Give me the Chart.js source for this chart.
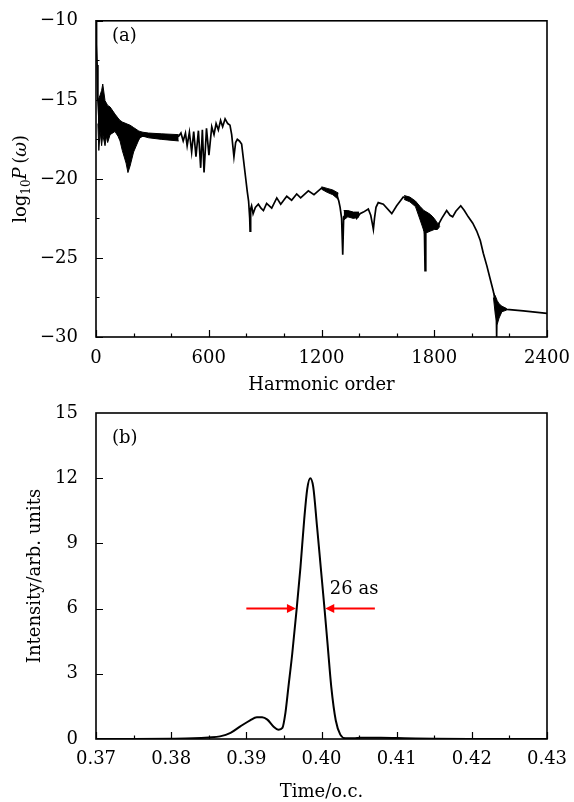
<!DOCTYPE html>
<html>
<head>
<meta charset="utf-8">
<script src="https://cdn.jsdelivr.net/npm/chart.js@4.4.1/dist/chart.umd.min.js"></script>
<style>
  body { margin: 0; background: #fff; }
  canvas { position: absolute; left: 0; }
  #specChart { top: 0; }
  #pulseChart { top: 390px; }
</style>
</head>
<body>
<canvas id="specChart" width="574" height="390"></canvas>
<canvas id="pulseChart" width="574" height="412"></canvas>
<script>
// ---------- (a) harmonic spectrum ----------
const specOrder = [0, 3, 6, 10, 15, 37, 60, 100, 130, 170, 220, 300, 400, 440, 452, 464, 476, 485, 497, 509,
  520, 532, 545, 557, 566, 575, 588, 601, 616, 628, 639, 651, 663, 674, 687, 701, 713, 722, 734, 743,
  752, 763, 775, 785, 795, 805, 812, 818, 820, 823, 828, 836, 848, 864, 878, 891, 908, 935, 962, 983,
  1015, 1041, 1068, 1089, 1130, 1160, 1201, 1225, 1245, 1265, 1281, 1292, 1299, 1307, 1313, 1318, 1334, 1352, 1378, 1387,
  1405, 1423, 1449, 1462, 1470, 1476, 1482, 1490, 1502, 1529, 1574, 1600, 1635, 1665, 1698, 1720, 1740, 1748, 1751, 1755,
  1778, 1800, 1817, 1840, 1866, 1884, 1898, 1915, 1941, 1960, 1981, 2005, 2026, 2045, 2061, 2080, 2097, 2112, 2124, 2130,
  2132, 2134, 2150, 2186, 2274, 2400];
const specLog = [-10.0, -11.5, -12.8, -15.0, -16.0, -15.0, -16.3, -16.6, -16.9, -17.6, -17.3, -17.3, -17.35, -17.3, -17.1, -17.6, -17.1, -17.9, -17.05, -18.3,
  -17.0, -18.6, -16.95, -19.3, -16.9, -19.6, -16.8, -18.5, -16.7, -17.2, -16.5, -16.9, -16.3, -16.7, -16.2, -16.5, -16.6, -17.2, -18.6, -17.7,
  -17.5, -17.6, -17.8, -18.8, -19.8, -20.8, -21.4, -22.5, -23.3, -21.9, -21.7, -22.2, -21.8, -21.6, -21.85, -22.0, -21.55, -21.85, -21.2, -21.6,
  -21.1, -21.35, -20.95, -21.2, -20.75, -21.0, -20.57, -20.7, -20.8, -20.85, -21.0, -21.4, -21.8, -22.5, -24.8, -22.4, -22.2, -22.1, -22.3, -22.5,
  -22.2, -22.1, -21.9, -22.3, -22.8, -23.2, -22.5, -21.8, -21.5, -21.6, -22.2, -21.7, -21.15, -21.3, -21.5, -21.9, -22.3, -23.5, -25.8, -23.4,
  -22.7, -22.8, -23.0, -22.5, -22.0, -22.3, -22.4, -22.05, -21.7, -22.0, -22.4, -22.8, -23.3, -23.9, -24.7, -25.5, -26.3, -27.0, -27.6, -28.0,
  -30.0, -28.0, -28.1, -28.25, -28.35, -28.5];

// dense oscillation bands: upper / lower envelope
const band1Order = [10, 15, 22, 30, 36, 48, 55, 62, 75, 101, 117, 128, 140, 160, 170, 181, 200, 225, 234, 250, 280, 350, 440];
const band1Hi = [-15.0, -14.9, -14.7, -14.4, -14.0, -15.05, -15.2, -15.35, -15.45, -15.9, -16.15, -16.3, -16.4, -16.5, -16.55, -16.6, -16.75, -16.95, -17.0, -17.05, -17.1, -17.15, -17.2];
const band1Lo = [-16.5, -18.2, -17.0, -17.9, -17.2, -17.9, -17.3, -17.7, -17.2, -17.0, -17.3, -17.6, -18.2, -19.0, -19.6, -19.2, -18.3, -17.6, -17.4, -17.3, -17.4, -17.5, -17.6];
const band2Order = [1200, 1230, 1260, 1290];
const band2Hi = [-20.5, -20.6, -20.7, -20.9];
const band2Lo = [-20.65, -20.85, -21.0, -21.3];
const band3Order = [1318, 1340, 1370, 1400];
const band3Hi = [-22.0, -22.0, -22.1, -22.1];
const band3Lo = [-22.6, -22.4, -22.5, -22.4];
const band4Order = [1640, 1670, 1700, 1725, 1745, 1760, 1780, 1800, 1817, 1830];
const band4Hi = [-21.05, -21.15, -21.4, -21.75, -22.0, -22.1, -22.25, -22.5, -22.8, -22.8];
const band4Lo = [-21.3, -21.45, -21.75, -22.6, -23.3, -23.4, -23.3, -23.2, -23.2, -23.0];
const band5Order = [2115, 2125, 2135, 2145, 2160, 2185];
const band5Hi = [-27.2, -27.4, -27.7, -27.9, -28.05, -28.2];
const band5Lo = [-27.5, -28.6, -29.2, -28.8, -28.4, -28.3];

const specXTicks = [0, 600, 1200, 1800, 2400];
const specXMinor = [200, 400, 800, 1000, 1400, 1600, 2000, 2200];
const specYTicks = [-30, -25, -20, -15, -10];
const specYMinor = [-27.5, -22.5, -17.5, -12.5];

// ---------- (b) attosecond pulse ----------
const pulseTime = [0.370, 0.375, 0.380, 0.383, 0.385, 0.3865, 0.3879, 0.3892, 0.3905, 0.3914, 0.3921, 0.3928, 0.3936, 0.3943, 0.3948,
  0.3952, 0.3956, 0.3961, 0.3967, 0.3972, 0.3977, 0.3981, 0.3985, 0.3989, 0.3994, 0.3999, 0.4004, 0.4008, 0.4013, 0.4019,
  0.4025, 0.4032, 0.4043, 0.4052, 0.4079, 0.411, 0.415, 0.420, 0.430];
const pulseInt = [0, 0, 0.01, 0.03, 0.07, 0.12, 0.28, 0.58, 0.86, 1.0, 1.0, 0.89, 0.58, 0.43, 0.51,
  1.2, 2.4, 3.9, 6.0, 7.9, 10.1, 11.5, 12.0, 11.6, 9.8, 7.9, 6.0, 4.4, 2.4, 0.85,
  0.2, 0.03, 0.03, 0.06, 0.06, 0.04, 0.01, 0, 0];

const arrowLeft = [0.3900, 0.3966];   // tail, tip
const arrowRight = [0.4071, 0.4005];
const arrowLevel = 6;
const widthLabel = '26 as';
const widthLabelAt = [0.4011, 6.9];

const pulseXTicks = [0.37, 0.38, 0.39, 0.40, 0.41, 0.42, 0.43];
const pulseXMinor = [0.375, 0.385, 0.395, 0.405, 0.415, 0.425];
const pulseYTicks = [0, 3, 6, 9, 12, 15];

const serif = 'DejaVu Serif';
const tickFont = { family: serif, size: 18 };

function pts(xs, ys) {
  return xs.map((v, i) => ({ x: v, y: ys[i] }));
}

function minus(v) {
  return v < 0 ? '\u2212' + Math.abs(v) : String(v);
}

// frame + inward ticks
function drawFrame(chart, t) {
  const { ctx, chartArea: a, scales: { x, y } } = chart;
  ctx.save();
  ctx.strokeStyle = '#000';
  ctx.lineWidth = 1.6;
  ctx.strokeRect(a.left, a.top, a.right - a.left, a.bottom - a.top);
  ctx.lineWidth = 1.2;
  ctx.beginPath();
  const xt = (vals, len) => vals.forEach(v => {
    const p = Math.round(x.getPixelForValue(v)) + 0.5;
    ctx.moveTo(p, a.bottom); ctx.lineTo(p, a.bottom - len);
  });
  const yt = (vals, len) => vals.forEach(v => {
    const p = Math.round(y.getPixelForValue(v)) + 0.5;
    ctx.moveTo(a.left, p); ctx.lineTo(a.left + len, p);
  });
  xt(t.xMajor, 7); xt(t.xMinor, 3.5);
  yt(t.yMajor, 7); yt(t.yMinor, 3.5);
  ctx.stroke();
  ctx.restore();
}

function fixedTicks(list) {
  return s => { s.ticks = list.map(v => ({ value: v })); };
}

// ---------- chart (a) ----------
const bandSets = [];
[[band1Order, band1Hi, band1Lo], [band2Order, band2Hi, band2Lo], [band3Order, band3Hi, band3Lo],
 [band4Order, band4Hi, band4Lo], [band5Order, band5Hi, band5Lo]].forEach(b => {
  bandSets.push({ data: pts(b[0], b[1]), borderColor: '#000', borderWidth: 1, backgroundColor: '#000', fill: '+1', pointRadius: 0 });
  bandSets.push({ data: pts(b[0], b[2]), borderColor: '#000', borderWidth: 1, fill: false, pointRadius: 0 });
});

new Chart(document.getElementById('specChart'), {
  type: 'line',
  data: {
    datasets: [
      { data: pts(specOrder, specLog), borderColor: '#000', borderWidth: 1.7, pointRadius: 0, tension: 0, fill: false }
    ].concat(bandSets)
  },
  options: {
    responsive: false,
    animation: false,
    devicePixelRatio: 1,
    layout: { padding: { top: 11, right: 27, left: 0, bottom: 0 } },
    plugins: { legend: { display: false }, tooltip: { enabled: false } },
    scales: {
      x: {
        type: 'linear', min: 0, max: 2400,
        afterBuildTicks: fixedTicks(specXTicks),
        afterFit: s => { s.height = 53; },
        grid: { display: false }, border: { display: false },
        ticks: { font: tickFont, color: '#000', padding: 3, maxRotation: 0, autoSkip: false, callback: v => String(v) }
      },
      y: {
        min: -30, max: -10,
        afterBuildTicks: fixedTicks(specYTicks),
        afterFit: s => { s.width = 96; },
        grid: { display: false }, border: { display: false },
        ticks: { font: tickFont, color: '#000', padding: 10, callback: v => minus(v) }
      }
    }
  },
  plugins: [{
    id: 'specDecor',
    afterDraw(chart) {
      drawFrame(chart, { xMajor: specXTicks, xMinor: specXMinor, yMajor: specYTicks, yMinor: specYMinor });
      const ctx = chart.ctx;
      const a = chart.chartArea;
      ctx.save();
      ctx.fillStyle = '#000';
      ctx.textBaseline = 'middle';
      ctx.font = '18px "' + serif + '"';
      ctx.fillText('(a)', 112, 36);
      ctx.textAlign = 'center';
      ctx.fillText('Harmonic order', (a.left + a.right) / 2, 385);
      // y title: log10 P(ω)
      ctx.translate(20, (a.top + a.bottom) / 2);
      ctx.rotate(-Math.PI / 2);
      ctx.textAlign = 'left';
      ctx.textBaseline = 'alphabetic';
      const parts = [
        ['log', '18px "' + serif + '"', 0],
        ['10', '12px "' + serif + '"', 4],
        ['P', 'italic 18px "' + serif + '"', 0],
        ['\u2009(', '18px "' + serif + '"', 0],
        ['\u03c9', 'italic 18px "' + serif + '"', 0],
        [')', '18px "' + serif + '"', 0]
      ];
      let total = 0;
      parts.forEach(p => { ctx.font = p[1]; total += ctx.measureText(p[0]).width; });
      let cx = -total / 2;
      parts.forEach(p => {
        ctx.font = p[1];
        ctx.fillText(p[0], cx, 6 + p[2]);
        cx += ctx.measureText(p[0]).width;
      });
      ctx.restore();
    }
  }]
});

// ---------- chart (b) ----------
new Chart(document.getElementById('pulseChart'), {
  type: 'line',
  data: {
    datasets: [{
      data: pts(pulseTime, pulseInt), borderColor: '#000', borderWidth: 2, pointRadius: 0,
      cubicInterpolationMode: 'monotone', fill: false
    }]
  },
  options: {
    responsive: false,
    animation: false,
    devicePixelRatio: 1,
    layout: { padding: { top: 23, right: 27, left: 0, bottom: 0 } },
    plugins: { legend: { display: false }, tooltip: { enabled: false } },
    scales: {
      x: {
        type: 'linear', min: 0.37, max: 0.43,
        afterBuildTicks: fixedTicks(pulseXTicks),
        afterFit: s => { s.height = 63; },
        grid: { display: false }, border: { display: false },
        ticks: { font: tickFont, color: '#000', padding: 2, maxRotation: 0, autoSkip: false, callback: v => v.toFixed(2) }
      },
      y: {
        min: 0, max: 15,
        afterBuildTicks: fixedTicks(pulseYTicks),
        afterFit: s => { s.width = 96; },
        grid: { display: false }, border: { display: false },
        ticks: { font: tickFont, color: '#000', padding: 10 }
      }
    }
  },
  plugins: [{
    id: 'pulseDecor',
    afterDraw(chart) {
      drawFrame(chart, { xMajor: pulseXTicks, xMinor: pulseXMinor, yMajor: pulseYTicks.slice(1, -1), yMinor: [] });
      const { ctx, chartArea: a, scales: { x, y } } = chart;
      ctx.save();
      // FWHM arrows
      ctx.strokeStyle = '#ff0000';
      ctx.fillStyle = '#ff0000';
      ctx.lineWidth = 2;
      const py = y.getPixelForValue(arrowLevel);
      [arrowLeft, arrowRight].forEach(ar => {
        const x0 = x.getPixelForValue(ar[0]);
        const x1 = x.getPixelForValue(ar[1]);
        const dir = Math.sign(x1 - x0);
        ctx.beginPath();
        ctx.moveTo(x0, py); ctx.lineTo(x1 - dir * 8, py);
        ctx.stroke();
        ctx.beginPath();
        ctx.moveTo(x1, py);
        ctx.lineTo(x1 - dir * 9, py - 4.5);
        ctx.lineTo(x1 - dir * 9, py + 4.5);
        ctx.closePath();
        ctx.fill();
      });
      ctx.fillStyle = '#000';
      ctx.font = '18px "' + serif + '"';
      ctx.textBaseline = 'middle';
      ctx.fillText(widthLabel, x.getPixelForValue(widthLabelAt[0]), y.getPixelForValue(widthLabelAt[1]));
      ctx.fillText('(b)', 112, 48);
      ctx.textAlign = 'center';
      ctx.fillText('Time/o.c.', (a.left + a.right) / 2, 402);
      ctx.translate(35, (a.top + a.bottom) / 2);
      ctx.rotate(-Math.PI / 2);
      ctx.fillText('Intensity/arb. units', 0, 0);
      ctx.restore();
    }
  }]
});
</script>
</body>
</html>
